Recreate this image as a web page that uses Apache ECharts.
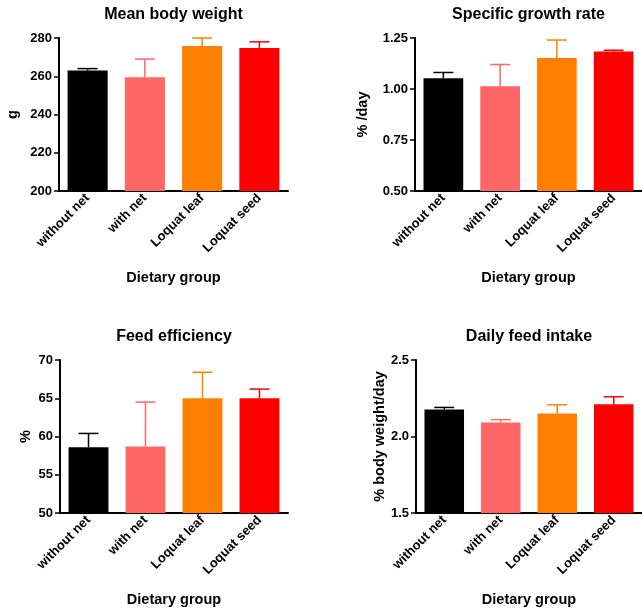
<!DOCTYPE html>
<html>
<head>
<meta charset="utf-8">
<script src="https://cdn.jsdelivr.net/npm/echarts@6/dist/echarts.min.js"></script>
<style>
html,body{margin:0;padding:0;background:#fff;}
#c{width:642px;height:612px;}
</style>
</head>
<body>
<div id="c"></div>
<script>
var categories = ['without net', 'with net', 'Loquat leaf', 'Loquat seed'];
var barColors = ['#000000', '#FF6666', '#FF8000', '#FF0000'];

var weightMean = [263, 259.5, 275.8, 274.8];
var weightUpper = [264, 269, 280, 278];

var sgrMean = [1.053, 1.013, 1.152, 1.184];
var sgrUpper = [1.081, 1.12, 1.24, 1.19];

var feMean = [58.6, 58.7, 65.0, 65.0];
var feUpper = [60.4, 64.5, 68.4, 66.2];

var dfiMean = [2.177, 2.092, 2.151, 2.21];
var dfiUpper = [2.19, 2.11, 2.207, 2.26];

var panels = [
  {title: 'Mean body weight', yName: 'g', mean: weightMean, upper: weightUpper, min: 200, max: 280, interval: 20, dec: 0,
   grid: {left: 59, top: 38, width: 229, height: 153}, nameGap: 39},
  {title: 'Specific growth rate', yName: '% /day', mean: sgrMean, upper: sgrUpper, min: 0.5, max: 1.25, interval: 0.25, dec: 2,
   grid: {left: 415, top: 38, width: 227, height: 153}, nameGap: 45},
  {title: 'Feed efficiency', yName: '%', mean: feMean, upper: feUpper, min: 50, max: 70, interval: 5, dec: 0,
   grid: {left: 60, top: 360, width: 228, height: 153}, nameGap: 27},
  {title: 'Daily feed intake', yName: '% body weight/day', mean: dfiMean, upper: dfiUpper, min: 1.5, max: 2.5, interval: 0.5, dec: 1,
   grid: {left: 416, top: 360, width: 226, height: 153}, nameGap: 27}
];

var FONT = "'Liberation Sans', Arial, Helvetica, sans-serif";
var grids = [], xAxes = [], yAxes = [], series = [], graphics = [];

panels.forEach(function (p, i) {
  grids.push(p.grid);
  xAxes.push({
    type: 'category', gridIndex: i, data: categories,
    name: 'Dietary group', nameLocation: 'middle', nameGap: 79,
    nameTextStyle: {fontFamily: FONT, fontWeight: 'bold', fontSize: 14.5, color: '#000'},
    axisLine: {onZero: false, lineStyle: {color: '#000', width: 2}},
    axisTick: {alignWithLabel: true, length: 5, lineStyle: {color: '#000', width: 1.5}},
    axisLabel: {rotate: 45, margin: 5, fontFamily: FONT, fontWeight: 'bold', fontSize: 13, color: '#000', interval: 0},
    splitLine: {show: false}
  });
  yAxes.push({
    type: 'value', gridIndex: i, min: p.min, max: p.max, interval: p.interval,
    name: p.yName, nameLocation: 'middle', nameRotate: 90, nameGap: p.nameGap,
    nameTextStyle: {fontFamily: FONT, fontWeight: 'bold', fontSize: 14.5, color: '#000'},
    axisLine: {show: true, lineStyle: {color: '#000', width: 2}},
    axisTick: {show: true, length: 5, lineStyle: {color: '#000', width: 1.5}},
    axisLabel: {margin: 7, fontFamily: FONT, fontWeight: 'bold', fontSize: 13, color: '#000',
      formatter: (function (d) { return function (v) { return v.toFixed(d); }; })(p.dec)},
    splitLine: {show: false}
  });
  series.push({
    type: 'bar', xAxisIndex: i, yAxisIndex: i, barCategoryGap: '30%',
    data: p.mean.map(function (v, k) { return {value: v, itemStyle: {color: barColors[k]}}; }),
    z: 2
  });
  series.push({
    type: 'custom', xAxisIndex: i, yAxisIndex: i, z: 3,
    data: p.mean.map(function (v, k) { return [k, v, p.upper[k]]; }),
    renderItem: function (params, api) {
      var k = api.value(0);
      var a = api.coord([k, api.value(1)]);
      var b = api.coord([k, api.value(2)]);
      var col = barColors[params.dataIndex];
      var half = 10;
      return {
        type: 'group',
        children: [
          {type: 'line', shape: {x1: a[0], y1: a[1], x2: b[0], y2: b[1]}, style: {stroke: col, lineWidth: 1.5}},
          {type: 'line', shape: {x1: b[0] - half, y1: b[1], x2: b[0] + half, y2: b[1]}, style: {stroke: col, lineWidth: 1.5}}
        ]
      };
    }
  });
  graphics.push({
    type: 'text',
    x: p.grid.left + p.grid.width / 2,
    y: p.grid.top - 31,
    style: {text: p.title, font: 'bold 16px ' + FONT, fill: '#000', textAlign: 'center', textVerticalAlign: 'top'}
  });
});

var chart = echarts.init(document.getElementById('c'), null, {renderer: 'canvas'});
chart.setOption({
  backgroundColor: '#fff',
  animation: false,
  grid: grids,
  xAxis: xAxes,
  yAxis: yAxes,
  series: series,
  graphic: graphics
});
</script>
</body>
</html>
